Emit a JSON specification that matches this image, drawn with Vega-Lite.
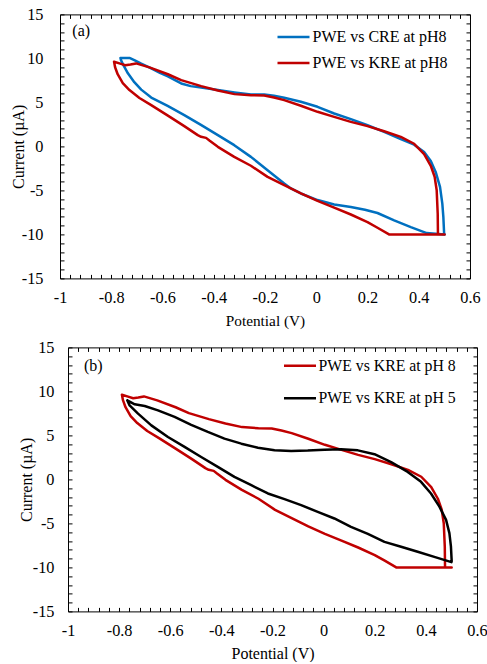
{
  "$schema": "https://vega.github.io/schema/vega-lite/v6.json",
  "background": "white",
  "padding": {"left": 8, "top": 6.4, "right": 0, "bottom": 0},
  "datasets": {
    "cv": [
      {"s":"CRE8","i":0,"v":-0.764,"c":10.05},{"s":"CRE8","i":1,"v":-0.729,"c":10.05},{"s":"CRE8","i":2,"v":-0.71,"c":9.8},{"s":"CRE8","i":3,"v":-0.683,"c":9.4},{"s":"CRE8","i":4,"v":-0.644,"c":8.86},{"s":"CRE8","i":5,"v":-0.61,"c":8.35},{"s":"CRE8","i":6,"v":-0.579,"c":7.95},{"s":"CRE8","i":7,"v":-0.527,"c":7.15},{"s":"CRE8","i":8,"v":-0.49,"c":6.85},{"s":"CRE8","i":9,"v":-0.449,"c":6.7},{"s":"CRE8","i":10,"v":-0.384,"c":6.4},{"s":"CRE8","i":11,"v":-0.319,"c":6.13},{"s":"CRE8","i":12,"v":-0.255,"c":5.9},{"s":"CRE8","i":13,"v":-0.203,"c":5.9},{"s":"CRE8","i":14,"v":-0.165,"c":5.75},{"s":"CRE8","i":15,"v":-0.125,"c":5.52},{"s":"CRE8","i":16,"v":-0.06,"c":5.07},{"s":"CRE8","i":17,"v":0.005,"c":4.5},{"s":"CRE8","i":18,"v":0.07,"c":3.74},{"s":"CRE8","i":19,"v":0.135,"c":3.1},{"s":"CRE8","i":20,"v":0.2,"c":2.4},{"s":"CRE8","i":21,"v":0.265,"c":1.65},{"s":"CRE8","i":22,"v":0.33,"c":0.82},{"s":"CRE8","i":23,"v":0.382,"c":0.2},{"s":"CRE8","i":24,"v":0.421,"c":-0.63},{"s":"CRE8","i":25,"v":0.447,"c":-1.65},{"s":"CRE8","i":26,"v":0.466,"c":-2.9},{"s":"CRE8","i":27,"v":0.483,"c":-4.6},{"s":"CRE8","i":28,"v":0.492,"c":-6.5},{"s":"CRE8","i":29,"v":0.496,"c":-8.0},{"s":"CRE8","i":30,"v":0.499,"c":-9.9},{"s":"CRE8","i":31,"v":0.501,"c":-10.0},{"s":"CRE8","i":32,"v":0.431,"c":-9.85},{"s":"CRE8","i":33,"v":0.369,"c":-9.17},{"s":"CRE8","i":34,"v":0.304,"c":-8.4},{"s":"CRE8","i":35,"v":0.239,"c":-7.57},{"s":"CRE8","i":36,"v":0.19,"c":-7.2},{"s":"CRE8","i":37,"v":0.135,"c":-6.88},{"s":"CRE8","i":38,"v":0.07,"c":-6.6},{"s":"CRE8","i":39,"v":0.005,"c":-6.1},{"s":"CRE8","i":40,"v":-0.06,"c":-5.35},{"s":"CRE8","i":41,"v":-0.099,"c":-4.78},{"s":"CRE8","i":42,"v":-0.125,"c":-4.21},{"s":"CRE8","i":43,"v":-0.19,"c":-2.7},{"s":"CRE8","i":44,"v":-0.255,"c":-1.19},{"s":"CRE8","i":45,"v":-0.32,"c":0.14},{"s":"CRE8","i":46,"v":-0.384,"c":1.28},{"s":"CRE8","i":47,"v":-0.45,"c":2.45},{"s":"CRE8","i":48,"v":-0.515,"c":3.56},{"s":"CRE8","i":49,"v":-0.58,"c":4.6},{"s":"CRE8","i":50,"v":-0.644,"c":5.55},{"s":"CRE8","i":51,"v":-0.683,"c":6.45},{"s":"CRE8","i":52,"v":-0.71,"c":7.3},{"s":"CRE8","i":53,"v":-0.735,"c":8.3},{"s":"CRE8","i":54,"v":-0.752,"c":9.2},{"s":"CRE8","i":55,"v":-0.762,"c":9.8},{"s":"CRE8","i":56,"v":-0.764,"c":10.05},
      {"s":"KRE8","i":0,"v":-0.789,"c":9.62},{"s":"KRE8","i":1,"v":-0.765,"c":9.4},{"s":"KRE8","i":2,"v":-0.745,"c":9.22},{"s":"KRE8","i":3,"v":-0.725,"c":9.3},{"s":"KRE8","i":4,"v":-0.703,"c":9.43},{"s":"KRE8","i":5,"v":-0.651,"c":8.98},{"s":"KRE8","i":6,"v":-0.579,"c":8.2},{"s":"KRE8","i":7,"v":-0.527,"c":7.53},{"s":"KRE8","i":8,"v":-0.449,"c":6.85},{"s":"KRE8","i":9,"v":-0.384,"c":6.35},{"s":"KRE8","i":10,"v":-0.319,"c":5.94},{"s":"KRE8","i":11,"v":-0.255,"c":5.82},{"s":"KRE8","i":12,"v":-0.203,"c":5.78},{"s":"KRE8","i":13,"v":-0.165,"c":5.55},{"s":"KRE8","i":14,"v":-0.125,"c":5.26},{"s":"KRE8","i":15,"v":-0.06,"c":4.62},{"s":"KRE8","i":16,"v":0.005,"c":3.93},{"s":"KRE8","i":17,"v":0.07,"c":3.35},{"s":"KRE8","i":18,"v":0.135,"c":2.79},{"s":"KRE8","i":19,"v":0.2,"c":2.3},{"s":"KRE8","i":20,"v":0.265,"c":1.72},{"s":"KRE8","i":21,"v":0.33,"c":1.08},{"s":"KRE8","i":22,"v":0.382,"c":0.3},{"s":"KRE8","i":23,"v":0.421,"c":-0.87},{"s":"KRE8","i":24,"v":0.447,"c":-2.2},{"s":"KRE8","i":25,"v":0.462,"c":-3.45},{"s":"KRE8","i":26,"v":0.47,"c":-4.99},{"s":"KRE8","i":27,"v":0.474,"c":-7.65},{"s":"KRE8","i":28,"v":0.475,"c":-10.0},{"s":"KRE8","i":29,"v":0.501,"c":-10.0},{"s":"KRE8","i":30,"v":0.284,"c":-10.0},{"s":"KRE8","i":31,"v":0.239,"c":-9.24},{"s":"KRE8","i":32,"v":0.2,"c":-8.6},{"s":"KRE8","i":33,"v":0.135,"c":-7.74},{"s":"KRE8","i":34,"v":0.07,"c":-6.95},{"s":"KRE8","i":35,"v":0.005,"c":-6.2},{"s":"KRE8","i":36,"v":-0.06,"c":-5.35},{"s":"KRE8","i":37,"v":-0.125,"c":-4.4},{"s":"KRE8","i":38,"v":-0.19,"c":-3.46},{"s":"KRE8","i":39,"v":-0.255,"c":-2.2},{"s":"KRE8","i":40,"v":-0.32,"c":-1.19},{"s":"KRE8","i":41,"v":-0.384,"c":-0.05},{"s":"KRE8","i":42,"v":-0.417,"c":0.67},{"s":"KRE8","i":43,"v":-0.43,"c":0.97},{"s":"KRE8","i":44,"v":-0.4495,"c":1.09},{"s":"KRE8","i":45,"v":-0.4625,"c":1.28},{"s":"KRE8","i":46,"v":-0.515,"c":2.3},{"s":"KRE8","i":47,"v":-0.579,"c":3.5},{"s":"KRE8","i":48,"v":-0.644,"c":4.69},{"s":"KRE8","i":49,"v":-0.69,"c":5.5},{"s":"KRE8","i":50,"v":-0.729,"c":6.4},{"s":"KRE8","i":51,"v":-0.755,"c":7.2},{"s":"KRE8","i":52,"v":-0.775,"c":8.2},{"s":"KRE8","i":53,"v":-0.785,"c":9.0},{"s":"KRE8","i":54,"v":-0.789,"c":9.62},
      {"s":"KRE5","i":0,"v":-0.768,"c":8.98},{"s":"KRE5","i":1,"v":-0.739,"c":8.53},{"s":"KRE5","i":2,"v":-0.7,"c":8.34},{"s":"KRE5","i":3,"v":-0.648,"c":7.85},{"s":"KRE5","i":4,"v":-0.583,"c":7.1},{"s":"KRE5","i":5,"v":-0.518,"c":6.2},{"s":"KRE5","i":6,"v":-0.453,"c":5.39},{"s":"KRE5","i":7,"v":-0.388,"c":4.63},{"s":"KRE5","i":8,"v":-0.322,"c":4.06},{"s":"KRE5","i":9,"v":-0.257,"c":3.6},{"s":"KRE5","i":10,"v":-0.192,"c":3.3},{"s":"KRE5","i":11,"v":-0.127,"c":3.23},{"s":"KRE5","i":12,"v":-0.062,"c":3.27},{"s":"KRE5","i":13,"v":0.003,"c":3.38},{"s":"KRE5","i":14,"v":0.068,"c":3.42},{"s":"KRE5","i":15,"v":0.134,"c":3.3},{"s":"KRE5","i":16,"v":0.199,"c":2.86},{"s":"KRE5","i":17,"v":0.264,"c":1.97},{"s":"KRE5","i":18,"v":0.329,"c":0.85},{"s":"KRE5","i":19,"v":0.381,"c":-0.28},{"s":"KRE5","i":20,"v":0.42,"c":-1.6},{"s":"KRE5","i":21,"v":0.453,"c":-3.1},{"s":"KRE5","i":22,"v":0.479,"c":-4.6},{"s":"KRE5","i":23,"v":0.492,"c":-6.1},{"s":"KRE5","i":24,"v":0.498,"c":-7.6},{"s":"KRE5","i":25,"v":0.501,"c":-9.3},{"s":"KRE5","i":26,"v":0.5,"c":-9.4},{"s":"KRE5","i":27,"v":0.433,"c":-8.8},{"s":"KRE5","i":28,"v":0.368,"c":-8.22},{"s":"KRE5","i":29,"v":0.303,"c":-7.66},{"s":"KRE5","i":30,"v":0.238,"c":-7.1},{"s":"KRE5","i":31,"v":0.173,"c":-6.2},{"s":"KRE5","i":32,"v":0.107,"c":-5.39},{"s":"KRE5","i":33,"v":0.042,"c":-4.44},{"s":"KRE5","i":34,"v":-0.023,"c":-3.69},{"s":"KRE5","i":35,"v":-0.088,"c":-2.93},{"s":"KRE5","i":36,"v":-0.153,"c":-2.25},{"s":"KRE5","i":37,"v":-0.218,"c":-1.6},{"s":"KRE5","i":38,"v":-0.283,"c":-0.66},{"s":"KRE5","i":39,"v":-0.349,"c":0.28},{"s":"KRE5","i":40,"v":-0.414,"c":1.42},{"s":"KRE5","i":41,"v":-0.479,"c":2.55},{"s":"KRE5","i":42,"v":-0.544,"c":3.69},{"s":"KRE5","i":43,"v":-0.609,"c":4.82},{"s":"KRE5","i":44,"v":-0.674,"c":6.14},{"s":"KRE5","i":45,"v":-0.726,"c":7.47},{"s":"KRE5","i":46,"v":-0.759,"c":8.41},{"s":"KRE5","i":47,"v":-0.768,"c":8.98}
    ]
  },
  "spacing": 10,
  "resolve": {"scale": {"color": "independent", "x": "independent", "y": "independent"}, "legend": {"color": "independent"}},
  "vconcat": [
    {
      "spacing": 0,
      "resolve": {"scale": {"color": "independent"}, "legend": {"color": "independent"}},
      "hconcat": [
        {"width": 1, "height": 1, "data": {"values": []}, "mark": "point"},
        {
          "width": 410,
          "height": 264,
          "data": {"name": "cv"},
          "layer": [
            {
              "transform": [{"filter": {"field": "s", "oneOf": ["CRE8", "KRE8"]}}],
              "mark": {"type": "line", "strokeWidth": 2.5, "strokeJoin": "round", "strokeCap": "round"},
              "encoding": {
                "x": {"field": "v", "type": "quantitative", "scale": {"domain": [-1, 0.6], "nice": false, "zero": false},
                  "axis": {"orient": "bottom", "title": "Potential (V)", "titleFontSize": 15.3, "values": [-1,-0.96,-0.92,-0.88,-0.84,-0.8,-0.76,-0.72,-0.68,-0.64,-0.6,-0.56,-0.52,-0.48,-0.44,-0.4,-0.36,-0.32,-0.28,-0.24,-0.2,-0.16,-0.12,-0.08,-0.04,0,0.04,0.08,0.12,0.16,0.2,0.24,0.28,0.32,0.36,0.4,0.44,0.48,0.52,0.56,0.6],
                    "labelExpr": "abs(datum.value*5 - round(datum.value*5)) < 0.001 ? '' + datum.value : ''", "labelPadding": 15, "titlePadding": 8}},
                "y": {"field": "c", "type": "quantitative", "scale": {"domain": [-15, 15], "nice": false, "zero": false},
                  "axis": {"orient": "left", "title": "Current (µA)", "values": [-15,-14,-13,-12,-11,-10,-9,-8,-7,-6,-5,-4,-3,-2,-1,0,1,2,3,4,5,6,7,8,9,10,11,12,13,14,15],
                    "labelExpr": "datum.value % 5 == 0 ? '' + datum.value : ''", "labelPadding": 21, "titlePadding": -4.7}},
                "color": {"field": "s", "type": "nominal", "scale": {"domain": ["CRE8", "KRE8"], "range": ["#0070C0", "#C00000"]},
                  "legend": {"orient": "none", "legendX": 224, "legendY": 13, "title": null, "symbolType": "M-2,0H2", "symbolSize": 256, "symbolStrokeWidth": 2.5, "labelFont": "Liberation Serif", "labelFontSize": 16, "labelColor": "black", "labelOffset": 9.5, "rowPadding": 8, "padding": 0, "labelLimit": 300,
                    "labelExpr": "datum.label == 'CRE8' ? 'PWE vs CRE at pH8' : 'PWE vs KRE at pH8'"}},
                "order": {"field": "i", "type": "quantitative"}
              }
            },
            {
              "transform": [{"filter": {"field": "s", "oneOf": ["CRE8", "KRE8"]}}],
              "mark": {"type": "point", "opacity": 0},
              "encoding": {
                "x": {"field": "v", "type": "quantitative", "axis": {"orient": "top", "labels": false, "title": null, "values": [-1,-0.96,-0.92,-0.88,-0.84,-0.8,-0.76,-0.72,-0.68,-0.64,-0.6,-0.56,-0.52,-0.48,-0.44,-0.4,-0.36,-0.32,-0.28,-0.24,-0.2,-0.16,-0.12,-0.08,-0.04,0,0.04,0.08,0.12,0.16,0.2,0.24,0.28,0.32,0.36,0.4,0.44,0.48,0.52,0.56,0.6]}},
                "y": {"field": "c", "type": "quantitative", "axis": {"orient": "right", "labels": false, "title": null, "values": [-15,-14,-13,-12,-11,-10,-9,-8,-7,-6,-5,-4,-3,-2,-1,0,1,2,3,4,5,6,7,8,9,10,11,12,13,14,15]}}
              }
            },
            {
              "data": {"values": [{"t": "(a)"}]},
              "mark": {"type": "text", "align": "left", "baseline": "middle", "fontSize": 16, "font": "Liberation Serif", "color": "black"},
              "encoding": {
                "x": {"datum": -0.952, "type": "quantitative", "axis": null},
                "y": {"datum": 13.13, "type": "quantitative", "axis": null},
                "text": {"field": "t"}
              }
            }
          ],
          "resolve": {"axis": {"x": "independent", "y": "independent"}}
        }
      ]
    },
    {
      "spacing": 0,
      "resolve": {"scale": {"color": "independent"}, "legend": {"color": "independent"}},
      "hconcat": [
        {"width": 1, "height": 1, "data": {"values": []}, "mark": "point"},
        {
          "width": 409,
          "height": 264,
          "data": {"name": "cv"},
          "layer": [
            {
              "transform": [{"filter": {"field": "s", "oneOf": ["KRE8", "KRE5"]}}],
              "mark": {"type": "line", "strokeWidth": 2.5, "strokeJoin": "round", "strokeCap": "round"},
              "encoding": {
                "x": {"field": "v", "type": "quantitative", "scale": {"domain": [-1, 0.6], "nice": false, "zero": false},
                  "axis": {"orient": "bottom", "title": "Potential (V)", "values": [-1,-0.96,-0.92,-0.88,-0.84,-0.8,-0.76,-0.72,-0.68,-0.64,-0.6,-0.56,-0.52,-0.48,-0.44,-0.4,-0.36,-0.32,-0.28,-0.24,-0.2,-0.16,-0.12,-0.08,-0.04,0,0.04,0.08,0.12,0.16,0.2,0.24,0.28,0.32,0.36,0.4,0.44,0.48,0.52,0.56,0.6],
                    "labelExpr": "abs(datum.value*5 - round(datum.value*5)) < 0.001 ? '' + datum.value : ''", "labelPadding": 15, "titlePadding": 7}},
                "y": {"field": "c", "type": "quantitative", "scale": {"domain": [-15, 15], "nice": false, "zero": false},
                  "axis": {"orient": "left", "title": ["", "Current (µA)"], "titleLineHeight": 8.6, "values": [-15,-14,-13,-12,-11,-10,-9,-8,-7,-6,-5,-4,-3,-2,-1,0,1,2,3,4,5,6,7,8,9,10,11,12,13,14,15],
                    "labelExpr": "datum.value % 5 == 0 ? '' + datum.value : ''", "labelPadding": 18, "titlePadding": -2.3}},
                "color": {"field": "s", "type": "nominal", "scale": {"domain": ["KRE8", "KRE5"], "range": ["#C00000", "#000000"]},
                  "legend": {"orient": "none", "legendX": 222.5, "legendY": 8.75, "title": null, "symbolType": "M-2,0H2", "symbolSize": 256, "symbolStrokeWidth": 2.5, "labelFont": "Liberation Serif", "labelFontSize": 15.8, "labelColor": "black", "labelOffset": 9, "rowPadding": 14.7, "padding": 0, "labelLimit": 300,
                    "labelExpr": "datum.label == 'KRE8' ? 'PWE vs KRE at pH 8' : 'PWE vs KRE at pH 5'"}},
                "order": {"field": "i", "type": "quantitative"}
              }
            },
            {
              "transform": [{"filter": {"field": "s", "oneOf": ["KRE8", "KRE5"]}}],
              "mark": {"type": "point", "opacity": 0},
              "encoding": {
                "x": {"field": "v", "type": "quantitative", "axis": {"orient": "top", "labels": false, "title": null, "values": [-1,-0.96,-0.92,-0.88,-0.84,-0.8,-0.76,-0.72,-0.68,-0.64,-0.6,-0.56,-0.52,-0.48,-0.44,-0.4,-0.36,-0.32,-0.28,-0.24,-0.2,-0.16,-0.12,-0.08,-0.04,0,0.04,0.08,0.12,0.16,0.2,0.24,0.28,0.32,0.36,0.4,0.44,0.48,0.52,0.56,0.6]}},
                "y": {"field": "c", "type": "quantitative", "axis": {"orient": "right", "labels": false, "title": null, "values": [-15,-14,-13,-12,-11,-10,-9,-8,-7,-6,-5,-4,-3,-2,-1,0,1,2,3,4,5,6,7,8,9,10,11,12,13,14,15]}}
              }
            },
            {
              "data": {"values": [{"t": "(b)"}]},
              "mark": {"type": "text", "align": "left", "baseline": "middle", "fontSize": 16, "font": "Liberation Serif", "color": "black"},
              "encoding": {
                "x": {"datum": -0.9375, "type": "quantitative", "axis": null},
                "y": {"datum": 12.9, "type": "quantitative", "axis": null},
                "text": {"field": "t"}
              }
            }
          ],
          "resolve": {"axis": {"x": "independent", "y": "independent"}}
        }
      ]
    }
  ],
  "config": {
    "font": "Liberation Serif",
    "view": {"stroke": null},
    "axis": {
      "domainColor": "black", "domainWidth": 1, "tickColor": "black", "tickWidth": 1, "tickSize": -4,
      "labelColor": "black", "titleColor": "black", "labelFont": "Liberation Serif", "titleFont": "Liberation Serif",
      "labelFontSize": 16.3, "titleFontSize": 16, "titleFontWeight": "normal", "grid": false,
      "labelOverlap": false, "labelFlush": false
    }
  }
}
